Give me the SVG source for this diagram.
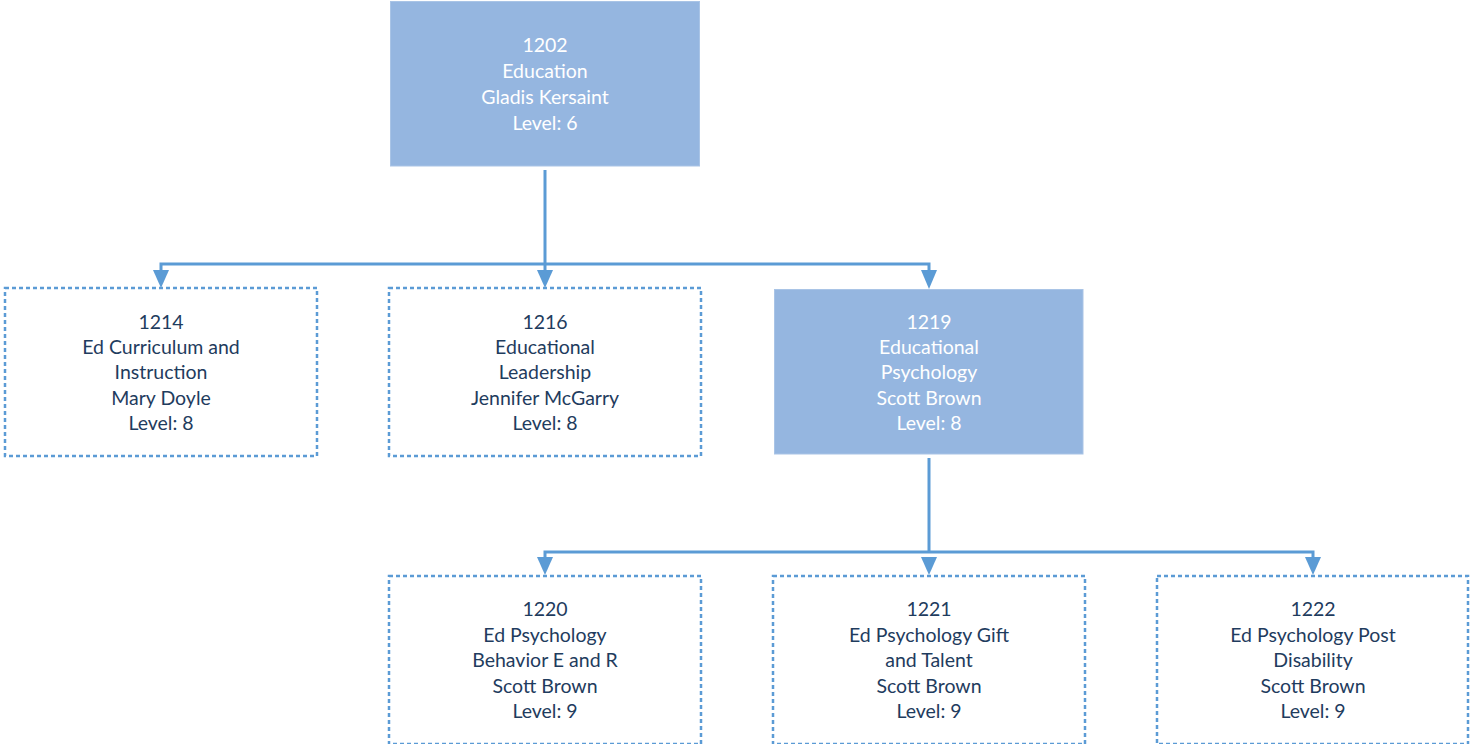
<svg xmlns="http://www.w3.org/2000/svg" width="1470" height="744" viewBox="0 0 1470 744">
<defs>
<style>
.solid{fill:#95b6e0;stroke:#a9c4e6;stroke-width:1}
.dash{fill:#ffffff;stroke:#5b9bd5;stroke-width:2.5;stroke-dasharray:4 3}
.t{font-family:Lato,"Open Sans","Liberation Sans",sans-serif;font-size:19.5px;text-anchor:middle}
.w{fill:#ffffff}
.d{fill:#1f3c5e}
.c{fill:none;stroke:#5b9bd5;stroke-width:3}
.ah{fill:#5b9bd5}
</style>
</defs>
<rect width="1470" height="744" fill="#ffffff"/>
<g id="connectors">
<path class="c" d="M545,170 V264"/>
<path class="c" d="M161,271 V264 H929 V271"/>
<path class="c" d="M545,264 V271"/>
<polygon class="ah" points="153,270 169,270 161,288"/>
<polygon class="ah" points="537,270 553,270 545,288"/>
<polygon class="ah" points="921,270 937,270 929,289"/>
<path class="c" d="M929,458 V552"/>
<path class="c" d="M545,558 V552 H1313 V558"/>
<polygon class="ah" points="537,557 553,557 545,575"/>
<polygon class="ah" points="921,557 937,557 929,575"/>
<polygon class="ah" points="1305,557 1321,557 1313,575"/>
</g>
<g id="n1202">
<rect class="solid" x="390.5" y="1.5" width="309" height="164.5"/>
<text class="t w" x="545" y="52">1202</text>
<text class="t w" x="545" y="78">Education</text>
<text class="t w" x="545" y="104">Gladis Kersaint</text>
<text class="t w" x="545" y="130">Level: 6</text>
</g>
<g id="n1214">
<rect class="dash" x="5" y="288" width="312" height="168"/>
<text class="t d" x="161" y="329">1214</text>
<text class="t d" x="161" y="354">Ed Curriculum and</text>
<text class="t d" x="161" y="379">Instruction</text>
<text class="t d" x="161" y="405">Mary Doyle</text>
<text class="t d" x="161" y="430">Level: 8</text>
</g>
<g id="n1216">
<rect class="dash" x="389" y="288" width="312" height="168"/>
<text class="t d" x="545" y="329">1216</text>
<text class="t d" x="545" y="354">Educational</text>
<text class="t d" x="545" y="379">Leadership</text>
<text class="t d" x="545" y="405">Jennifer McGarry</text>
<text class="t d" x="545" y="430">Level: 8</text>
</g>
<g id="n1219">
<rect class="solid" x="774.5" y="289.5" width="308.5" height="164.5"/>
<text class="t w" x="929" y="329">1219</text>
<text class="t w" x="929" y="354">Educational</text>
<text class="t w" x="929" y="379">Psychology</text>
<text class="t w" x="929" y="405">Scott Brown</text>
<text class="t w" x="929" y="430">Level: 8</text>
</g>
<g id="n1220">
<rect class="dash" x="389" y="576" width="312" height="168"/>
<text class="t d" x="545" y="616">1220</text>
<text class="t d" x="545" y="642">Ed Psychology</text>
<text class="t d" x="545" y="667">Behavior E and R</text>
<text class="t d" x="545" y="693">Scott Brown</text>
<text class="t d" x="545" y="718">Level: 9</text>
</g>
<g id="n1221">
<rect class="dash" x="773" y="576" width="312" height="168"/>
<text class="t d" x="929" y="616">1221</text>
<text class="t d" x="929" y="642">Ed Psychology Gift</text>
<text class="t d" x="929" y="667">and Talent</text>
<text class="t d" x="929" y="693">Scott Brown</text>
<text class="t d" x="929" y="718">Level: 9</text>
</g>
<g id="n1222">
<rect class="dash" x="1157" y="576" width="311" height="168"/>
<text class="t d" x="1313" y="616">1222</text>
<text class="t d" x="1313" y="642">Ed Psychology Post</text>
<text class="t d" x="1313" y="667">Disability</text>
<text class="t d" x="1313" y="693">Scott Brown</text>
<text class="t d" x="1313" y="718">Level: 9</text>
</g>
</svg>
